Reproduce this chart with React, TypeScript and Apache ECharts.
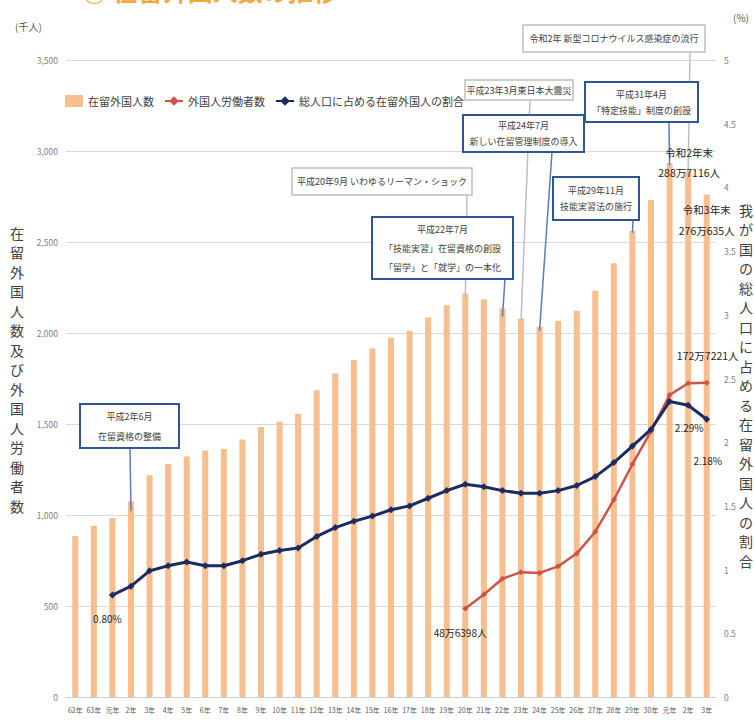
import React, { useEffect, useRef } from "react";
import * as echarts from "echarts";

const FONT = '"Noto Sans CJK JP", "Noto Sans", sans-serif';

const categories = [
  "62年", "63年", "元年", "2年", "3年", "4年", "5年", "6年", "7年", "8年", "9年", "10年",
  "11年", "12年", "13年", "14年", "15年", "16年", "17年", "18年", "19年", "20年", "21年",
  "22年", "23年", "24年", "25年", "26年", "27年", "28年", "29年", "30年", "元年", "2年", "3年",
];

// 在留外国人数 (千人)
const foreignResidents = [
  884, 941, 984, 1075, 1219, 1282, 1321, 1354, 1362, 1415, 1483, 1512, 1556, 1686, 1778,
  1852, 1915, 1974, 2012, 2085, 2153, 2217, 2186, 2134, 2079, 2034, 2066, 2122, 2232, 2383,
  2562, 2731, 2933, 2887, 2761,
];

// 外国人労働者数 (千人)
const foreignWorkers = [
  null, null, null, null, null, null, null, null, null, null, null, null, null, null, null,
  null, null, null, null, null, null, 486, 563, 650, 686, 682, 718, 788, 908, 1084,
  1279, 1460, 1659, 1724, 1727,
];

// 総人口に占める在留外国人の割合 (%)
const residentRatio = [
  null, null, 0.80, 0.87, 0.99, 1.03, 1.06, 1.03, 1.03, 1.07, 1.12, 1.15, 1.17, 1.26, 1.33,
  1.38, 1.42, 1.47, 1.50, 1.56, 1.62, 1.67, 1.65, 1.62, 1.60, 1.60, 1.62, 1.66, 1.73, 1.84,
  1.97, 2.10, 2.32, 2.29, 2.18,
];

const leftTicks = [0, 500, 1000, 1500, 2000, 2500, 3000, 3500];
const rightTicks = [0, 0.5, 1, 1.5, 2, 2.5, 3, 3.5, 4, 4.5, 5];

const BAR = "#F7BE8E";
const RED = "#CF5448";
const NAVY = "#1C2B62";
const DARK_BORDER = "#2F5597";
const DARK_LINE = "#5B7DB8";
const GRAY = "#BFBFBF";
const TXT = "#404040";

type Box = {
  x: number; y: number; w: number; h: number;
  lines: string[]; dark: boolean; fromX: number; cat: number; lh: number; extra: number;
};

const boxes: Box[] = [
  { x: 80, y: 404, w: 99, h: 44, lines: ["平成2年6月", "在留資格の整備"], dark: true, fromX: 130, cat: 3, lh: 20, extra: 10 },
  { x: 292, y: 168, w: 180, h: 27, lines: ["平成20年9月 いわゆるリーマン・ショック"], dark: false, fromX: 467, cat: 21, lh: 16, extra: 4 },
  { x: 372, y: 217, w: 141, h: 62, lines: ["平成22年7月", "「技能実習」在留資格の創設", "「留学」と「就学」の一本化"], dark: true, fromX: 505, cat: 23, lh: 19, extra: 8 },
  { x: 465, y: 80, w: 108, h: 20, lines: ["平成23年3月東日本大震災"], dark: false, fromX: 530, cat: 24, lh: 16, extra: 2 },
  { x: 463, y: 115, w: 121, h: 37, lines: ["平成24年7月", "新しい在留管理制度の導入"], dark: true, fromX: 552, cat: 25, lh: 16, extra: 4 },
  { x: 553, y: 177, w: 86, h: 43, lines: ["平成29年11月", "技能実習法の施行"], dark: true, fromX: 633, cat: 30, lh: 16, extra: 2 },
  { x: 523, y: 25, w: 182, h: 27, lines: ["令和2年 新型コロナウイルス感染症の流行"], dark: false, fromX: 690, cat: 33, lh: 16, extra: 2 },
  { x: 585, y: 82, w: 113, h: 40, lines: ["平成31年4月", "「特定技能」制度の創設"], dark: true, fromX: 669, cat: 32, lh: 16, extra: 2 },
];

export default function App() {
  const ref = useRef<HTMLDivElement>(null);

  useEffect(() => {
    document.body.style.margin = "0";
    const chart = echarts.init(ref.current!, undefined, { renderer: "svg" });
    chart.setOption({
      animation: false,
      backgroundColor: "#ffffff",
      textStyle: { fontFamily: FONT },
      grid: { left: 66, right: 38, top: 60, bottom: 23 },
      legend: {
        left: 60,
        top: 90,
        itemWidth: 18,
        itemHeight: 12,
        itemGap: 10,
        textStyle: { fontSize: 11, color: TXT, fontFamily: FONT },
        data: [
          { name: "在留外国人数", icon: "rect" },
          { name: "外国人労働者数" },
          { name: "総人口に占める在留外国人の割合" },
        ],
      },
      xAxis: {
        type: "category",
        data: categories,
        axisTick: { show: false },
        axisLine: { lineStyle: { color: "#C5D0DE" } },
        axisLabel: { interval: 0, fontSize: 7, color: "#595959", margin: 9, fontFamily: FONT },
      },
      yAxis: [
        {
          type: "value",
          min: leftTicks[0],
          max: leftTicks[leftTicks.length - 1],
          interval: 500,
          axisLine: { show: false },
          axisTick: { show: false },
          splitLine: { lineStyle: { color: "#D9D9D9" } },
          axisLabel: {
            fontSize: 8.5,
            color: "#7F7F7F",
            margin: 8,
            formatter: (v: number) => v.toLocaleString("en-US"),
          },
        },
        {
          type: "value",
          position: "right",
          min: rightTicks[0],
          max: rightTicks[rightTicks.length - 1],
          interval: 0.5,
          axisLine: { show: false },
          axisTick: { show: false },
          splitLine: { show: false },
          axisLabel: { fontSize: 8.5, color: "#7F7F7F", margin: 8, formatter: (v: number) => String(v) },
        },
      ],
      series: [
        {
          name: "在留外国人数",
          type: "bar",
          data: foreignResidents,
          barWidth: 6,
          itemStyle: { color: BAR },
          z: 1,
        },
        {
          name: "外国人労働者数",
          type: "line",
          yAxisIndex: 0,
          data: foreignWorkers,
          symbol: "diamond",
          symbolSize: 6,
          lineStyle: { color: RED, width: 2.5 },
          itemStyle: { color: RED },
          z: 3,
        },
        {
          name: "総人口に占める在留外国人の割合",
          type: "line",
          yAxisIndex: 1,
          data: residentRatio,
          symbol: "diamond",
          symbolSize: 7,
          lineStyle: { color: NAVY, width: 3 },
          itemStyle: { color: NAVY },
          z: 4,
        },
      ],
    });

    const p0 = (i: number, v: number) =>
      chart.convertToPixel({ xAxisIndex: 0, yAxisIndex: 0 }, [i, v]) as number[];
    const p1 = (i: number, v: number) =>
      chart.convertToPixel({ xAxisIndex: 0, yAxisIndex: 1 }, [i, v]) as number[];

    const txt = (x: number, y: number, text: string, size: number, lh = 16, color = "#262626") => ({
      type: "text",
      x,
      y,
      z: 20,
      style: {
        text,
        fill: color,
        fontSize: size,
        fontFamily: FONT,
        lineHeight: lh,
        align: "center",
        verticalAlign: "middle",
        textAlign: "center",
        textVerticalAlign: "middle",
      },
    });

    const graphics: any[] = [];
    boxes.forEach((b) => {
      const top = p0(b.cat, foreignResidents[b.cat]);
      graphics.push({
        type: "line",
        z: 10,
        shape: { x1: b.fromX, y1: b.y + b.h, x2: top[0], y2: top[1] + b.extra },
        style: { stroke: b.dark ? DARK_LINE : GRAY, lineWidth: 1.5 },
      });
    });
    boxes.forEach((b) => {
      graphics.push({
        type: "rect",
        z: 11,
        shape: { x: b.x, y: b.y, width: b.w, height: b.h },
        style: { fill: "#ffffff", stroke: b.dark ? DARK_BORDER : GRAY, lineWidth: b.dark ? 2 : 1.5 },
      });
      graphics.push(txt(b.x + b.w / 2, b.y + b.h / 2, b.lines.join("\n"), 9, b.lh, TXT));
    });

    const r0 = p1(2, residentRatio[2] as number);
    graphics.push(txt(r0[0] - 5, r0[1] + 23, "0.80%", 10));
    const w0 = p0(21, foreignWorkers[21] as number);
    graphics.push(txt(w0[0] - 5, w0[1] + 24, "48万6398人", 10));
    const wl = p0(34, foreignWorkers[34] as number);
    graphics.push(txt(wl[0] + 1, wl[1] - 27, "172万7221人", 10.5));
    const r2 = p1(33, residentRatio[33] as number);
    graphics.push(txt(r2[0] + 1, r2[1] + 22, "2.29%", 10));
    const r3 = p1(34, residentRatio[34] as number);
    graphics.push(txt(r3[0] + 1, r3[1] + 41, "2.18%", 10));
    const b2 = p0(33, foreignResidents[33]);
    graphics.push(txt(b2[0] + 1, b2[1] - 9, "令和2年末\n288万7116人", 10.5, 20));
    const b3 = p0(34, foreignResidents[34]);
    graphics.push(txt(b3[0], b3[1] + 26, "令和3年末\n276万635人", 10.5, 21));

    graphics.push({
      type: "text",
      x: 82,
      y: -23,
      z: 20,
      style: { text: "◯ 在留外国人数の推移", fill: "#F2A93B", fontSize: 25, fontWeight: "bold", fontFamily: FONT },
    });
    graphics.push({
      type: "text", x: 15, y: 21, z: 20,
      style: { text: "(千人)", fill: "#595959", fontSize: 10, fontFamily: FONT },
    });
    graphics.push({
      type: "text", x: 733, y: 12, z: 20,
      style: { text: "(%)", fill: "#595959", fontSize: 10, fontFamily: FONT },
    });
    const leftTitle = "在留外国人数及び外国人労働者数".split("").join("\n");
    graphics.push({
      type: "text", x: 17, y: 223, z: 20,
      style: {
        text: leftTitle, fill: TXT, fontSize: 14, lineHeight: 19.5, fontFamily: FONT,
        align: "center", textAlign: "center",
      },
    });
    const rightTitle = "我が国の総人口に占める在留外国人の割合".split("").join("\n");
    graphics.push({
      type: "text", x: 746, y: 200, z: 20,
      style: {
        text: rightTitle, fill: TXT, fontSize: 14, lineHeight: 19.5, fontFamily: FONT,
        align: "center", textAlign: "center",
      },
    });

    chart.setOption({ graphic: graphics });

    return () => chart.dispose();
  }, []);

  return <div ref={ref} style={{ width: 754, height: 720 }} />;
}
